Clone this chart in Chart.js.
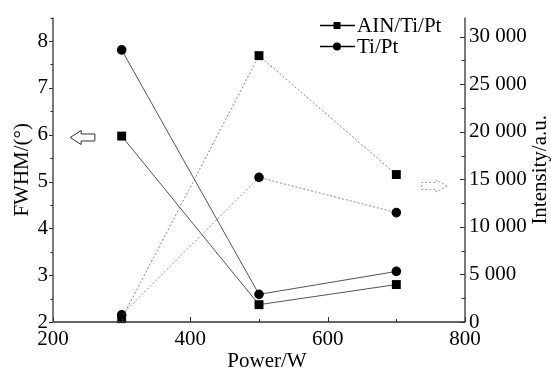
<!DOCTYPE html>
<html>
<head>
<meta charset="utf-8">
<script src="https://cdn.jsdelivr.net/npm/chart.js@4/dist/chart.umd.min.js"></script>
<style>
html,body{margin:0;padding:0;background:#fff;}
#wrap{width:551px;height:372px;}
</style>
</head>
<body>
<div id="wrap"><canvas id="c" width="551" height="372"></canvas></div>
<script>
const powers = [300, 500, 700];
const fwhmAlN = [5.97, 2.37, 2.80];
const fwhmTiPt = [7.81, 2.59, 3.08];
const intAlN = [350, 28000, 15500];
const intTiPt = [750, 15200, 11500];
const seriesNames = ['AIN/Ti/Pt', 'Ti/Pt'];
const xTicks = [200, 400, 600, 800];
const yLeftTicks = [2, 3, 4, 5, 6, 7, 8];
const yRightTicks = [0, 5000, 10000, 15000, 20000, 25000, 30000];
const xTitle = 'Power/W';
const yLeftTitle = 'FWHM/(°)';
const yRightTitle = 'Intensity/a.u.';

const FONT = '"Liberation Serif", "Times New Roman", serif';
const FS = 21;

function pts(xs, ys){ return xs.map((x,i)=>({x:x, y:ys[i]})); }

const solid = {borderColor:'#555', borderWidth:1, pointBackgroundColor:'#000', pointBorderColor:'#000', pointBorderWidth:0, tension:0, clip:false, fill:false};
const dashed = {borderColor:'#888', borderWidth:1, borderDash:[2,2], pointBackgroundColor:'#000', pointBorderColor:'#000', pointBorderWidth:0, tension:0, clip:false, fill:false};

const decor = {
  id:'decor',
  afterDraw(chart){
    const ctx = chart.ctx;
    const a = chart.chartArea;
    const xs = chart.scales.x, yl = chart.scales.yL, yr = chart.scales.yR;
    ctx.save();
    ctx.strokeStyle = '#333';
    ctx.lineWidth = 1.3;
    ctx.beginPath();
    ctx.moveTo(a.left, a.top); ctx.lineTo(a.left, a.bottom); ctx.lineTo(a.right, a.bottom); ctx.lineTo(a.right, a.top);
    ctx.stroke();
    ctx.lineWidth = 1;
    ctx.beginPath();
    for(let v=2; v<=8.5001; v+=0.5){
      const y = Math.round(yl.getPixelForValue(v))+0.5;
      const len = (Math.abs(v-Math.round(v))<1e-6)?4:2.5;
      ctx.moveTo(a.left, y); ctx.lineTo(a.left-len, y);
    }
    for(let v=200; v<=800; v+=100){
      const x = Math.round(xs.getPixelForValue(v))+0.5;
      const len = (v%200===0)?5:3;
      ctx.moveTo(x, a.bottom); ctx.lineTo(x, a.bottom-len);
    }
    for(let v=0; v<=32000; v+=2500){
      const y = Math.round(yr.getPixelForValue(v))+0.5;
      const len = (v%5000===0)?5:3.5;
      ctx.moveTo(a.right, y); ctx.lineTo(a.right-len, y);
    }
    ctx.stroke();

    ctx.fillStyle = '#000';
    ctx.font = FS + 'px ' + FONT;
    ctx.textAlign = 'center';
    ctx.textBaseline = 'middle';
    ctx.fillText(xTitle, 267, 361);
    const cy = (a.top + a.bottom)/2;
    ctx.save(); ctx.translate(22, cy); ctx.rotate(-Math.PI/2); ctx.fillText(yLeftTitle, 0, 0); ctx.restore();
    ctx.save(); ctx.translate(540, cy); ctx.rotate(-Math.PI/2); ctx.fillText(yRightTitle, 0, 0); ctx.restore();

    const lx0 = 320, lx1 = 355, mx = 337;
    const rows = [25, 46];
    ctx.strokeStyle = '#000'; ctx.lineWidth = 1.3;
    rows.forEach((ry, i)=>{
      ctx.beginPath(); ctx.moveTo(lx0, ry+0.5); ctx.lineTo(lx1, ry+0.5); ctx.stroke();
      ctx.fillStyle = '#000';
      if(i===0){ ctx.fillRect(mx-3.5, ry-3, 7, 7); }
      else { ctx.beginPath(); ctx.arc(mx, ry+0.5, 4, 0, Math.PI*2); ctx.fill(); }
      ctx.textAlign = 'left'; ctx.textBaseline = 'middle';
      ctx.fillText(seriesNames[i], 357, ry+1);
    });

    {
      const tip = xs.getPixelForValue(225), back = xs.getPixelForValue(241), tail = xs.getPixelForValue(261);
      const y = yl.getPixelForValue(5.94);
      ctx.strokeStyle = '#333'; ctx.lineWidth = 1;
      ctx.beginPath();
      ctx.moveTo(tip, y); ctx.lineTo(back, y-7); ctx.lineTo(back, y-3.5); ctx.lineTo(tail, y-3.5);
      ctx.lineTo(tail, y+3.5); ctx.lineTo(back, y+3.5); ctx.lineTo(back, y+7); ctx.closePath();
      ctx.stroke();
    }
    {
      const tip = xs.getPixelForValue(774), back = xs.getPixelForValue(758), tail = xs.getPixelForValue(737);
      const y = yr.getPixelForValue(14300);
      ctx.strokeStyle = '#999'; ctx.lineWidth = 1; ctx.setLineDash([2,2]);
      ctx.beginPath();
      ctx.moveTo(tip, y); ctx.lineTo(back, y-6); ctx.lineTo(back, y-3.5); ctx.lineTo(tail, y-3.5);
      ctx.lineTo(tail, y+3.5); ctx.lineTo(back, y+3.5); ctx.lineTo(back, y+6); ctx.closePath();
      ctx.stroke();
      ctx.setLineDash([]);
    }
    ctx.restore();
  }
};

const tickFont = {family: FONT, size: FS};
const setTicks = list => (s => { s.ticks = list.map(v => ({value: v})); });

new Chart(document.getElementById('c'), {
  type: 'line',
  data: {
    datasets: [
      Object.assign({label: seriesNames[0]+' FWHM', data: pts(powers, fwhmAlN), yAxisID:'yL', pointStyle:'rect', pointRadius:6.3}, solid),
      Object.assign({label: seriesNames[1]+' FWHM', data: pts(powers, fwhmTiPt), yAxisID:'yL', pointStyle:'circle', pointRadius:4.8}, solid),
      Object.assign({label: seriesNames[0]+' Intensity', data: pts(powers, intAlN), yAxisID:'yR', pointStyle:'rect', pointRadius:6.3}, dashed),
      Object.assign({label: seriesNames[1]+' Intensity', data: pts(powers, intTiPt), yAxisID:'yR', pointStyle:'circle', pointRadius:4.8}, dashed)
    ]
  },
  options: {
    responsive: false,
    animation: false,
    devicePixelRatio: 1,
    layout: {padding: {top: 14, left: 0, right: 0, bottom: 0}},
    plugins: {legend: {display: false}, tooltip: {enabled: false}},
    scales: {
      x: {
        type: 'linear', position: 'bottom', min: 200, max: 800,
        grid: {display: false, drawTicks: false}, border: {display: false},
        ticks: {font: tickFont, color: '#000', padding: 5, maxRotation: 0, autoSkip: false},
        afterBuildTicks: setTicks(xTicks),
        afterFit(s){ s.height = 50; }
      },
      yL: {
        type: 'linear', position: 'left', min: 2, max: 8.5,
        grid: {display: false, drawTicks: false}, border: {display: false},
        ticks: {font: tickFont, color: '#000', padding: 5, autoSkip: false},
        afterBuildTicks: setTicks(yLeftTicks),
        afterFit(s){ s.width = 53; }
      },
      yR: {
        type: 'linear', position: 'right', min: 0, max: 32000,
        grid: {display: false, drawTicks: false}, border: {display: false},
        ticks: {font: tickFont, color: '#000', padding: 4, autoSkip: false,
          callback: v => String(v).replace(/\B(?=(\d{3})+(?!\d))/g, ' ')},
        afterBuildTicks: setTicks(yRightTicks),
        afterFit(s){ s.width = 86; }
      }
    }
  },
  plugins: [decor]
});
</script>
</body>
</html>
